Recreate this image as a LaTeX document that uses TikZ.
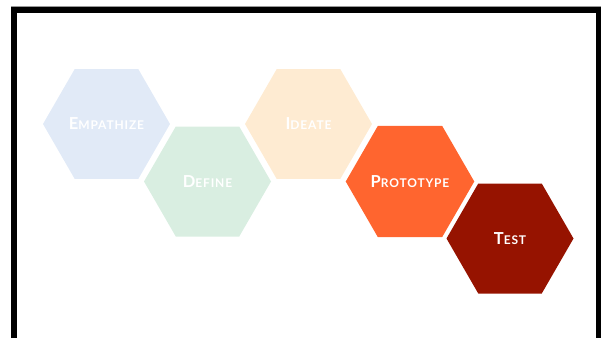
\documentclass[tikz,border=0pt]{standalone}
\usepackage{fontspec}
\setmainfont{Lato}[LetterSpace=7]
\usetikzlibrary{shapes.geometric}
\definecolor{empblue}{HTML}{E1EAF7}
\definecolor{defgreen}{HTML}{D9EEE1}
\definecolor{ideacream}{HTML}{FEEBD2}
\definecolor{protoorange}{HTML}{FF652F}
\definecolor{testred}{HTML}{961300}
\newcommand{\stagecaps}[2]{{\fontsize{16.5}{17}\selectfont #1}{\fontsize{12}{13}\selectfont #2}}
\begin{document}
\begin{tikzpicture}[x=1pt,y=-1pt,font=\bfseries,
  hexa/.style={regular polygon,regular polygon sides=6,minimum size=127pt,
    inner sep=0pt,outer sep=0pt,text=white}]
  \useasboundingbox (0,0) rectangle (601,338);
  % frame of the slide
  \draw[gray!80,line width=1] (11,6.3) -- (601,6.3);
  \draw[line width=6,line join=miter] (14,338) -- (14,9.5) -- (598.5,9.5) -- (598.5,338);
  % the five stages
  \node[hexa,fill=empblue]     (empathize) at (106.5,124)   {\stagecaps{E}{MPATHIZE}};
  \node[hexa,fill=defgreen]    (define)    at (207.5,181.5) {\stagecaps{D}{EFINE}};
  \node[hexa,fill=ideacream]   (ideate)    at (308.5,124)   {\stagecaps{I}{DEATE}};
  \node[hexa,fill=protoorange] (prototype) at (410,181.5)   {\stagecaps{P}{ROTOTYPE}};
  \node[hexa,fill=testred]     (test)      at (510,238.5)   {\stagecaps{T}{EST}};
\end{tikzpicture}
\end{document}
